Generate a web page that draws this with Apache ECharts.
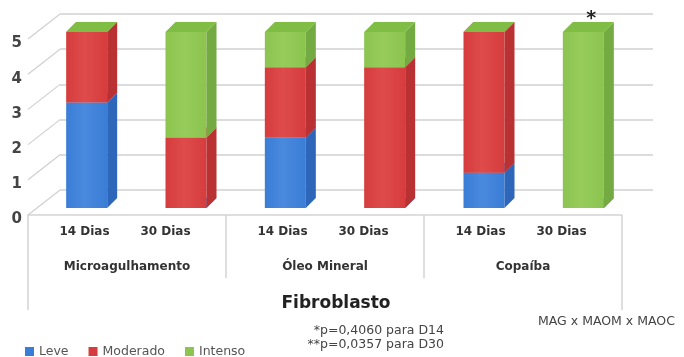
<!DOCTYPE html>
<html>
<head>
<meta charset="utf-8">
<script src="https://cdn.jsdelivr.net/npm/echarts@6/dist/echarts.min.js"></script>
<style>html,body{margin:0;padding:0;background:#fff}#c{width:684px;height:357px}</style>
</head>
<body>
<div id="c"></div>
<script>
const categories = ['14 Dias','30 Dias','14 Dias','30 Dias','14 Dias','30 Dias'];
const barIds = ['M14','M30','O14','O30','C14','C30'];
const groups = ['Microagulhamento','Óleo Mineral','Copaíba'];
const seriesNames = ['Leve','Moderado','Intenso'];
const leve = [3,0,2,0,1,0];
const moderado = [2,2,2,4,4,0];
const intenso = [0,3,1,1,0,5];
const annotations = ['','','','','','*'];
const yTicks = [0,1,2,3,4,5];
const footnotes = ['*p=0,4060 para D14','**p=0,0357 para D30'];
const comparison = 'MAG x MAOM x MAOC';
const axisTitle = 'Fibroblasto';

const FONT = '"DejaVu Sans", "Open Sans", sans-serif';
const palette = {
  Leve:     {front:'#3a7dd6', hi:'#4a8ade', side:'#2e67ba', top:'#5592dd'},
  Moderado: {front:'#d63c3d', hi:'#de4b4b', side:'#b93132', top:'#e05656'},
  Intenso:  {front:'#8cc450', hi:'#97cc5a', side:'#74aa42', top:'#80bd45'}
};
const levels = [leve, moderado, intenso];

function stackData(k){
  return barIds.map((id,i)=>{
    let base = 0;
    for(let j=0;j<k;j++) base += levels[j][i];
    return [i, base, base + levels[k][i]];
  });
}

function bar3D(name){
  const c = palette[name];
  return function(params, api){
    const i = api.value(0), b = api.value(1), t = api.value(2);
    const pb = api.coord([i,b]), pt = api.coord([i,t]);
    const w = 41, d = 10;
    const x0 = pb[0]-w/2, x1 = x0+w;
    const yb = pb[1], yt = pt[1];
    const children = [];
    if (yb - yt > 0.1){
      children.push({type:'rect', shape:{x:x0,y:yt,width:w,height:yb-yt},
        style:{fill:new echarts.graphic.LinearGradient(0,0,1,0,[
          {offset:0,color:c.front},{offset:0.45,color:c.hi},{offset:1,color:c.front}])}});
      children.push({type:'polygon', shape:{points:[[x1,yb],[x1+d,yb-d],[x1+d,yt-d],[x1,yt]]},
        style:{fill:c.side}});
    }
    children.push({type:'polygon', shape:{points:[[x0,yt],[x0+d,yt-d],[x1+d,yt-d],[x1,yt]]},
      style:{fill:c.top}});
    const ann = name === 'Intenso' ? annotations[i] : '';
    if (ann){
      children.push({type:'text', style:{text:ann, x:(x0+x1)/2+d/2+3, y:yt-d-3,
        align:'center', verticalAlign:'middle', font:'bold 19px '+FONT, fill:'#222'}});
    }
    return {type:'group', children};
  };
}

const labelStyle = {fontFamily:FONT, fontSize:12, fontWeight:'bold', color:'#333'};
const chart = echarts.init(document.getElementById('c'), null, {renderer:'canvas'});
const option = {
  backgroundColor:'#fff',
  animation:false,
  title:{text:axisTitle, left:331, top:290, textAlign:'center',
    textStyle:{fontFamily:FONT, fontSize:17, fontWeight:'bold', color:'#222'}},
  legend:{data:seriesNames, left:20, top:340, icon:'rect', itemWidth:9, itemHeight:9, itemGap:20,
    textStyle:{fontFamily:FONT, fontSize:12.5, color:'#555'}},
  grid:[
    {left:28, right:62, top:39, bottom:142},
    {left:60, right:31, top:14, bottom:167},
    {left:37, right:51, top:32, bottom:149}
  ],
  xAxis:[
    {gridIndex:0, type:'category', data:categories, boundaryGap:true,
      axisLine:{show:true, lineStyle:{color:'#d4d4d4', width:1.5}}, axisTick:{show:false},
      axisLabel:Object.assign({margin:11, interval:0, hideOverlap:false,
        formatter:(v,idx)=> idx%2===0 ? '{a|'+v+'}' : '{b|'+v+'}',
        rich:{a:Object.assign({padding:[0,0,0,14]}, labelStyle),
              b:Object.assign({padding:[0,22,0,0]}, labelStyle)}}, labelStyle)},
    {gridIndex:0, type:'category', data:groups, boundaryGap:true, position:'bottom',
      axisLine:{show:false}, axisTick:{show:true, length:63, lineStyle:{color:'#d4d4d4', width:1.5}},
      axisLabel:Object.assign({margin:46, interval:0}, labelStyle)},
    {gridIndex:0, type:'category', data:[''], boundaryGap:true, position:'bottom',
      axisLine:{show:false}, axisTick:{show:true, length:95, lineStyle:{color:'#d4d4d4', width:1.5}},
      axisLabel:{show:false}},
    {gridIndex:1, type:'category', data:barIds, show:false},
    {gridIndex:2, type:'category', data:barIds, show:false}
  ],
  yAxis:[
    {gridIndex:0, type:'value', min:0, max:5, interval:1,
      axisLine:{show:false}, axisTick:{show:false}, splitLine:{show:false},
      axisLabel:{margin:6, formatter:v=>'{n|'+v+'}',
        rich:{n:{padding:[9,0,0,0], fontFamily:FONT, fontSize:15, fontWeight:'bold', color:'#444'}}}},
    {gridIndex:1, type:'value', min:0, max:5, interval:1,
      axisLine:{show:false}, axisTick:{show:false}, axisLabel:{show:false},
      splitLine:{show:true, lineStyle:{color:'#d0d0d0', width:1.5}}},
    {gridIndex:2, type:'value', min:0, max:5, interval:1, show:false}
  ],
  series:[
    {type:'custom', name:'_diag', xAxisIndex:0, yAxisIndex:0, silent:true,
      data:yTicks.map(v=>[0,v]),
      renderItem:function(params, api){
        const p = api.coord([0, api.value(1)]);
        const x = params.coordSys.x;
        return {type:'line', shape:{x1:x, y1:p[1], x2:x+32, y2:p[1]-25},
          style:{stroke:'#d0d0d0', lineWidth:1.2}};
      }},
    ...seriesNames.map((name,k)=>({
      type:'custom', name, xAxisIndex:4, yAxisIndex:2,
      itemStyle:{color:palette[name].front},
      data:stackData(k),
      encode:{x:0, y:[1,2]},
      renderItem:bar3D(name)
    }))
  ],
  graphic:[
    {type:'text', right:684-444, top:324, style:{text:footnotes[0], align:'right',
      font:'12.5px '+FONT, fill:'#444'}},
    {type:'text', right:684-444, top:338, style:{text:footnotes[1], align:'right',
      font:'12.5px '+FONT, fill:'#444'}},
    {type:'text', left:538, top:315, style:{text:comparison, font:'12.5px '+FONT, fill:'#444'}}
  ]
};
chart.setOption(option);
</script>
</body>
</html>
